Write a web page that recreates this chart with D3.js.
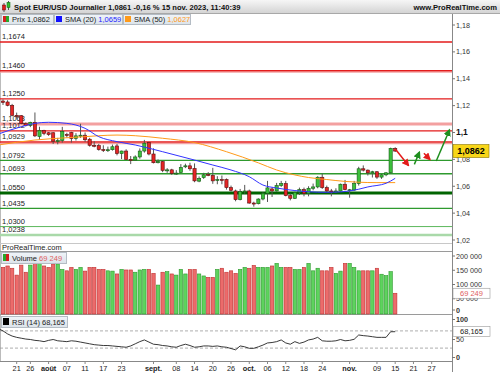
<!DOCTYPE html>
<html><head><meta charset="utf-8">
<script src="https://cdn.jsdelivr.net/npm/d3@7"></script>
<style>
html,body{margin:0;padding:0;background:#fff;}
svg{display:block;font-family:"Liberation Sans",Arial,sans-serif;}
</style></head>
<body>
<script>
// ---------- DATA ----------
const dates = ["18/07","19/07","20/07","21/07","24/07","25/07","26/07","27/07","28/07","31/07",
"01/08","02/08","03/08","04/08","07/08","08/08","09/08","10/08","11/08","14/08","15/08","16/08","17/08","18/08","21/08","22/08","23/08","24/08","25/08","28/08","29/08","30/08","31/08",
"01/09","04/09","05/09","06/09","07/09","08/09","11/09","12/09","13/09","14/09","15/09","18/09","19/09","20/09","21/09","22/09","25/09","26/09","27/09","28/09","29/09",
"02/10","03/10","04/10","05/10","06/10","09/10","10/10","11/10","12/10","13/10","16/10","17/10","18/10","19/10","20/10","23/10","24/10","25/10","26/10","27/10","30/10","31/10",
"01/11","02/11","03/11","06/11","07/11","08/11","09/11","10/11","13/11","14/11","15/11"];

const open = [1.1234,1.1227,1.1202,1.1128,1.1125,1.1066,1.1053,1.1076,1.0970,1.1015,
1.0998,1.0998,1.0935,1.0940,1.0985,1.1000,1.0955,1.0975,1.0980,1.0950,
1.0905,1.0902,1.0873,1.0870,1.0872,1.0900,1.0843,1.0862,1.0800,1.0795,
1.0818,1.0862,1.0925,1.0840,1.0775,1.0783,1.0718,1.0722,1.0695,1.0702,
1.0745,1.0752,1.0732,1.0638,1.0665,1.0688,1.0680,1.0645,1.0650,1.0650,
1.0590,1.0565,1.0500,1.0560,1.0565,1.0475,1.0470,1.0505,1.0548,1.0580,
1.0565,1.0605,1.0620,1.0530,1.0510,1.0555,1.0575,1.0545,1.0585,1.0595,
1.0667,1.0590,1.0565,1.0560,1.0565,1.0615,1.0570,1.0572,1.0620,1.0730,
1.0720,1.0700,1.0708,1.0668,1.0685,1.0700,1.0882];

const high = [1.1246,1.1240,1.1213,1.1148,1.1130,1.1075,1.1080,1.1149,1.1043,1.1020,
1.1003,1.1003,1.0960,1.1042,1.0998,1.1005,1.0995,1.1065,1.1000,1.0960,
1.0935,1.0915,1.0905,1.0895,1.0910,1.0915,1.0865,1.0875,1.0825,1.0830,
1.0882,1.0945,1.0930,1.0882,1.0800,1.0790,1.0735,1.0730,1.0720,1.0765,
1.0768,1.0775,1.0770,1.0673,1.0700,1.0705,1.0737,1.0675,1.0680,1.0658,
1.0605,1.0575,1.0580,1.0610,1.0575,1.0485,1.0510,1.0555,1.0640,1.0590,
1.0625,1.0640,1.0640,1.0545,1.0560,1.0590,1.0590,1.0600,1.0620,1.0675,
1.0695,1.0605,1.0580,1.0585,1.0620,1.0647,1.0580,1.0640,1.0745,1.0755,
1.0725,1.0715,1.0712,1.0690,1.0705,1.0887,1.0890];

const low = [1.1205,1.1195,1.1120,1.1105,1.1065,1.1045,1.1040,1.0966,1.0945,1.0980,
1.0975,1.0915,1.0912,1.0925,1.0962,1.0925,1.0940,1.0960,1.0930,1.0895,
1.0890,1.0865,1.0855,1.0855,1.0865,1.0830,1.0802,1.0795,1.0765,1.0790,
1.0805,1.0850,1.0830,1.0770,1.0770,1.0705,1.0700,1.0685,1.0685,1.0700,
1.0735,1.0715,1.0630,1.0630,1.0655,1.0675,1.0618,1.0615,1.0615,1.0575,
1.0560,1.0488,1.0495,1.0545,1.0470,1.0448,1.0465,1.0495,1.0483,1.0520,
1.0560,1.0595,1.0525,1.0495,1.0505,1.0535,1.0525,1.0525,1.0570,1.0585,
1.0580,1.0555,1.0525,1.0550,1.0560,1.0570,1.0515,1.0565,1.0605,1.0710,
1.0680,1.0665,1.0655,1.0655,1.0675,1.0695,1.0855];

const close = [1.1224,1.1202,1.1128,1.1125,1.1066,1.1053,1.1076,1.0975,1.1015,1.0993,
1.0985,1.0935,1.0940,1.1008,1.0980,1.0955,1.0975,1.0980,1.0946,1.0905,
1.0900,1.0873,1.0870,1.0872,1.0894,1.0843,1.0862,1.0800,1.0795,1.0818,
1.0862,1.0920,1.0840,1.0775,1.0785,1.0718,1.0722,1.0695,1.0698,1.0740,
1.0752,1.0730,1.0640,1.0657,1.0685,1.0680,1.0640,1.0650,1.0645,1.0590,
1.0570,1.0500,1.0560,1.0565,1.0475,1.0470,1.0505,1.0548,1.0588,1.0565,
1.0605,1.0620,1.0530,1.0510,1.0555,1.0575,1.0545,1.0585,1.0595,1.0667,
1.0590,1.0565,1.0560,1.0565,1.0615,1.0575,1.0574,1.0620,1.0730,1.0720,
1.0700,1.0708,1.0668,1.0685,1.0700,1.0882,1.0862];

const volume = [160000,165000,157000,133000,168000,143000,168000,183000,183000,165000,
160000,172000,172000,153000,148000,160000,153000,160000,147000,160000,
160000,153000,153000,148000,147000,137000,153000,151000,151000,143000,
151000,153000,153000,139000,98000,143000,145000,137000,133000,153000,
137000,153000,153000,137000,130000,125000,125000,153000,157000,143000,
148000,139000,153000,160000,157000,167000,160000,160000,160000,165000,
174000,160000,160000,160000,153000,153000,160000,174000,148000,157000,
148000,148000,160000,139000,147000,174000,174000,160000,148000,148000,
148000,148000,157000,136000,131000,145000,69249];

// SMA readings (trading-day index, value)
const sma20Idx = [-1,4,7,10,14,18,21,25,29,35,42,46,50,54,57,60,64,67,71,74,78,80,84,86];
const sma20    = [1.0989,1.1043,1.1068,1.1076,1.1068,1.1031,1.0969,1.0932,1.0907,1.0857,1.0795,1.0758,1.0721,1.0671,1.0609,1.0587,1.0568,1.0559,1.0555,1.0558,1.0578,1.0595,1.0622,1.0659];
const sma50Idx = [-1,7,14,18,21,25,29,35,42,49,56,60,64,67,71,75,78,82,86];
const sma50    = [1.0907,1.0944,1.0961,1.0969,1.0976,1.0981,1.0976,1.0957,1.0925,1.0857,1.0774,1.0721,1.0684,1.0665,1.0650,1.0636,1.0630,1.0627,1.0627];

// RSI(14), index -1 .. 86
const rsiStart = -1;
const rsi = [75,70,63,58,55,53,51,50,48,47,45,
48,50,47,46,45,47,46,44,42,40,
38,37,36,36,35,34,33,32,35,40,
45,49,44,39,38,36,35,33,32,36,
39,36,32,33,35,35,34,35,33,32,
29,26,35,33,29.5,29.5,33,37,42,43,
45,49,42,39,45,41,44,49,51,55,
47,46,46,47,50,47,48,50.5,60.5,59,
58,56.5,55,55,55,68,68.165];

// Support / resistance levels
const levels = [1.1674,1.1460,1.1250,1.1063,1.1012,1.0929,1.0792,1.0693,1.0550,1.0435,1.0300,1.0238];
const levelLabels = ["1,1674","1,1460","1,1250","1,1063","1,1012","1,0929","1,0792","1,0693","1,0550","1,0435","1,0300","1,0238"];

// Price axis ticks
const priceTicks = [1.02,1.04,1.06,1.08,1.10,1.12,1.14,1.16,1.18];
const priceTickLabels = ["1,02","1,04","1,06","1,08","1,1","1,12","1,14","1,16","1,18"];
const volTicks = [0,50000,100000,150000,200000];
const volTickLabels = ["0","50 000","100 000","150 000","200 000"];
const rsiTicks = [0,50,100];
const rsiTickLabels = ["0","50","100"];

// X axis ticks (trading-day index)
const xTickIdx = [3,6,10,14,18,22,26,33,38,42,46,50,54,58,62,66,70,76,82,86,90,94];
const xTickLabels = ["21","26","août","07","11","17","23","sept.","08","14","20","26","oct.","06","12","18","24","nov.","09","15","21","27"];

// Annotation arrows (index, price)
const arrowFromIdx = [86.2, 90.2, 92.3, 95.0];
const arrowFromP   = [1.0870, 1.0763, 1.0845, 1.0788];
const arrowToIdx   = [88.9, 91.3, 93.6, 97.9];
const arrowToP     = [1.0755, 1.0853, 1.0800, 1.1019];
const arrowDir     = ["down","up","down","up"];

const title = "Spot EUR/USD Journalier 1,0861 -0,16 % 15 nov. 2023, 11:40:39";
const lastPrice = 1.0862, lastPriceLabel = "1,0862";
const sma20Label = "1,0659", sma50Label = "1,0627";
const lastVolLabel = "69 249", lastRsiLabel = "68,165";

// ---------- LAYOUT ----------
const W = 500, H = 375;
const plotR = 452;
const x = d3.scaleLinear().domain([0, 86]).range([3, 395.2]);
const yP = d3.scaleLinear().domain([1.02, 1.18]).range([240, 25]);
const yV = d3.scaleLinear().domain([0, 200000]).range([313, 256]);
const yR = d3.scaleLinear().domain([0, 100]).range([361, 318]);

const RED = "#e31b1b", GREEN = "#1f8f1f";
const svg = d3.select("body").append("svg").attr("width", W).attr("height", H);
const defs = svg.append("defs");

function grad(id, c1, c2) {
  const g = defs.append("linearGradient").attr("id", id).attr("x1", 0).attr("y1", 0).attr("x2", 0).attr("y2", 1);
  g.append("stop").attr("offset", 0).attr("stop-color", c1);
  g.append("stop").attr("offset", 1).attr("stop-color", c2);
}
grad("hdr", "#f6f6f6", "#d4d4d4");
grad("leg", "#f0f4f8", "#dbe3ea");

defs.append("clipPath").attr("id", "cMain").append("rect").attr("x", 0).attr("y", 14).attr("width", plotR).attr("height", 229);
defs.append("clipPath").attr("id", "cAll").append("rect").attr("x", 0).attr("y", 0).attr("width", plotR).attr("height", H);

["red", "green"].forEach(k => {
  defs.append("marker").attr("id", "ar-" + k).attr("viewBox", "0 0 10 10").attr("refX", 8).attr("refY", 5)
    .attr("markerWidth", 5).attr("markerHeight", 5).attr("orient", "auto")
    .append("path").attr("d", "M0,0 L10,5 L0,10 z").attr("fill", k === "red" ? RED : GREEN);
});

// ---------- HEADER ----------
svg.append("rect").attr("x", 0).attr("y", 0).attr("width", W).attr("height", 13).attr("fill", "url(#hdr)");
svg.append("line").attr("x1", 0).attr("x2", W).attr("y1", 13.5).attr("y2", 13.5).attr("stroke", "#a8a8a8");
// small candle icon
svg.append("line").attr("x1", 4).attr("x2", 4).attr("y1", 3).attr("y2", 12).attr("stroke", "#555");
svg.append("rect").attr("x", 2.5).attr("y", 5).attr("width", 3).attr("height", 5).attr("fill", RED).attr("stroke", "#600").attr("stroke-width", 0.5);
svg.append("line").attr("x1", 8.5).attr("x2", 8.5).attr("y1", 1).attr("y2", 10).attr("stroke", "#555");
svg.append("rect").attr("x", 7).attr("y", 2.5).attr("width", 3).attr("height", 5).attr("fill", "#33bb33").attr("stroke", "#060").attr("stroke-width", 0.5);
svg.append("text").attr("x", 14).attr("y", 9.6).attr("font-size", 7.6).attr("font-weight", "bold").attr("fill", "#111").text(title);
svg.append("text").attr("x", 497).attr("y", 9.6).attr("text-anchor", "end").attr("font-size", 7.6).attr("font-weight", "bold").attr("fill", "#111").text("www.ProRealTime.com");

// ---------- FRAMES ----------
svg.append("line").attr("x1", 0.5).attr("x2", 0.5).attr("y1", 14).attr("y2", 362).attr("stroke", "#bbb");
[[243.5, "#c8c8c8"], [251.5, "#9a9a9a"], [314.5, "#9a9a9a"], [361.5, "#888"]].forEach(([yy, c]) =>
  svg.append("line").attr("x1", 0).attr("x2", plotR).attr("y1", yy).attr("y2", yy).attr("stroke", c));
svg.append("line").attr("x1", plotR + 0.5).attr("x2", plotR + 0.5).attr("y1", 14).attr("y2", 372).attr("stroke", "#888");

// ---------- LEVELS ----------
const lvlStyle = [
  {c: RED, w: 1.5}, {c: RED, w: 1.5, under: "#f3a3a3"}, {c: RED, w: 1.3}, {c: "#f3a0a0", w: 3},
  {c: RED, w: 1.3}, {c: RED, w: 1.4, under: "#f3a3a3"}, {c: "#2e9a2e", w: 1.3}, {c: "#2e9a2e", w: 1.3},
  {c: "#006400", w: 3}, {c: "#2e9a2e", w: 1.3}, {c: "#5cb85c", w: 1}, {c: "#a9d9a9", w: 2.5}
];
const main = svg.append("g").attr("clip-path", "url(#cMain)");
levels.forEach((v, i) => {
  const s = lvlStyle[i], yy = yP(v);
  if (s.under) main.append("line").attr("x1", 0).attr("x2", plotR).attr("y1", yy + 1.5).attr("y2", yy + 1.5).attr("stroke", s.under).attr("stroke-width", 1.2);
  main.append("line").attr("x1", 0).attr("x2", plotR).attr("y1", yy).attr("y2", yy).attr("stroke", s.c).attr("stroke-width", s.w);
  main.append("text").attr("x", 2).attr("y", yy - 2.6).attr("font-size", 7.5).attr("fill", "#222").text(levelLabels[i]);
});

// ---------- CANDLES ----------
const cg = main.append("g");
dates.forEach((d, i) => {
  const cx = x(i), up = close[i] >= open[i];
  cg.append("line").attr("x1", cx).attr("x2", cx).attr("y1", yP(high[i])).attr("y2", yP(low[i])).attr("stroke", "#555").attr("stroke-width", 1);
  const y1 = yP(Math.max(open[i], close[i])), y2 = yP(Math.min(open[i], close[i]));
  cg.append("rect").attr("x", cx - 1.6).attr("y", y1).attr("width", 3.2).attr("height", Math.max(1, y2 - y1))
    .attr("fill", up ? "#3cc03c" : "#e42525").attr("stroke", up ? "#145a14" : "#5a0f0f").attr("stroke-width", 0.6);
});

// ---------- SMA ----------
const lineGen = d3.line().x(d => x(d[0])).y(d => yP(d[1])).curve(d3.curveMonotoneX);
main.append("path").datum(sma50Idx.map((k, i) => [k, sma50[i]])).attr("d", lineGen).attr("fill", "none").attr("stroke", "#ff9a1a").attr("stroke-width", 1);
main.append("path").datum(sma20Idx.map((k, i) => [k, sma20[i]])).attr("d", lineGen).attr("fill", "none").attr("stroke", "#3333ff").attr("stroke-width", 1);

// ---------- ARROWS ----------
const ag = svg.append("g").attr("clip-path", "url(#cAll)");
arrowFromIdx.forEach((a, i) => {
  const col = arrowDir[i] === "up" ? "green" : "red";
  ag.append("line").attr("x1", x(a)).attr("y1", yP(arrowFromP[i])).attr("x2", x(arrowToIdx[i])).attr("y2", yP(arrowToP[i]))
    .attr("stroke", col === "red" ? RED : GREEN).attr("stroke-width", 1.5).attr("marker-end", "url(#ar-" + col + ")");
});

// ---------- PRICE AXIS ----------
priceTicks.forEach((v, i) => {
  const yy = yP(v), bold = v === 1.10;
  svg.append("line").attr("x1", plotR).attr("x2", plotR + 3).attr("y1", yy).attr("y2", yy).attr("stroke", "#777");
  svg.append("text").attr("x", 456).attr("y", yy).attr("dy", "0.35em").attr("font-size", bold ? 8.5 : 7.2)
    .attr("font-weight", bold ? "bold" : "normal").attr("fill", bold ? "#111" : "#333").text(priceTickLabels[i]);
});
{
  const yy = yP(lastPrice);
  svg.append("rect").attr("x", 453).attr("y", yy - 6.5).attr("width", 36).attr("height", 13).attr("fill", "#f8d619").attr("stroke", "#8a7400").attr("stroke-width", 0.6);
  svg.append("text").attr("x", 471).attr("y", yy).attr("dy", "0.36em").attr("text-anchor", "middle").attr("font-size", 9).attr("font-weight", "bold").attr("fill", "#000").text(lastPriceLabel);
}

// ---------- LEGEND (top) ----------
function legendBox(x0, x1, y0, y1) {
  svg.append("rect").attr("x", x0 + 0.5).attr("y", y0 + 0.5).attr("width", x1 - x0).attr("height", y1 - y0).attr("fill", "url(#leg)").attr("stroke", "#b4bcc4");
}
legendBox(1, 53, 14, 24);
svg.append("rect").attr("x", 3).attr("y", 16).attr("width", 3).attr("height", 6).attr("fill", "#d42020");
svg.append("rect").attr("x", 6).attr("y", 16).attr("width", 3).attr("height", 6).attr("fill", "#2aa82a");
svg.append("text").attr("x", 12).attr("y", 21.8).attr("font-size", 7.5).attr("fill", "#222").text("Prix 1,0862");
legendBox(54, 122, 14, 24);
svg.append("rect").attr("x", 56).attr("y", 16).attr("width", 6).attr("height", 6).attr("fill", "#1010ff");
const t2 = svg.append("text").attr("x", 65).attr("y", 21.8).attr("font-size", 7.5).attr("fill", "#222");
t2.append("tspan").text("SMA (20) ");
t2.append("tspan").attr("fill", "#2424ff").text(sma20Label);
legendBox(123, 190, 14, 24);
svg.append("rect").attr("x", 125).attr("y", 16).attr("width", 6).attr("height", 6).attr("fill", "#ff9a1a");
const t3 = svg.append("text").attr("x", 134).attr("y", 21.8).attr("font-size", 7.5).attr("fill", "#222");
t3.append("tspan").text("SMA (50) ");
t3.append("tspan").attr("fill", "#ff9a1a").text(sma50Label);

// ---------- VOLUME ----------
svg.append("text").attr("x", 2).attr("y", 249.5).attr("font-size", 7.5).attr("fill", "#222").text("ProRealTime.com");
const vg = svg.append("g");
volume.forEach((v, i) => {
  const up = close[i] >= open[i];
  vg.append("rect").attr("x", x(i) - 1.7).attr("y", yV(v)).attr("width", 3.4).attr("height", 314 - yV(v))
    .attr("fill", up ? "#5ed35e" : "#ec6b6b").attr("stroke", up ? "#2c9a2c" : "#c03030").attr("stroke-width", 0.6);
});
legendBox(1, 66, 252, 263);
svg.append("rect").attr("x", 3).attr("y", 254).attr("width", 3).attr("height", 7).attr("fill", "#2aa82a");
svg.append("rect").attr("x", 6).attr("y", 254).attr("width", 3).attr("height", 7).attr("fill", "#d42020");
const tv = svg.append("text").attr("x", 12).attr("y", 260.5).attr("font-size", 7.5).attr("fill", "#222");
tv.append("tspan").text("Volume ");
tv.append("tspan").attr("fill", "#e06060").text(lastVolLabel);
volTicks.forEach((v, i) => {
  const yy = Math.min(yV(v), 310);
  svg.append("line").attr("x1", plotR).attr("x2", plotR + 3).attr("y1", yy).attr("y2", yy).attr("stroke", "#777");
  svg.append("text").attr("x", 456).attr("y", yy).attr("dy", "0.35em").attr("font-size", 7.2)
    .attr("font-weight", v === 0 ? "bold" : "normal").attr("fill", "#333").text(volTickLabels[i]);
});
{
  const yy = yV(volume[volume.length - 1]);
  svg.append("rect").attr("x", 453).attr("y", yy - 5).attr("width", 37).attr("height", 10).attr("fill", "#fff").attr("stroke", "#999").attr("stroke-width", 0.6);
  svg.append("text").attr("x", 471.5).attr("y", yy).attr("dy", "0.35em").attr("text-anchor", "middle").attr("font-size", 7.5).attr("fill", "#e06060").text(lastVolLabel);
}

// ---------- RSI ----------
[70, 30].forEach(v => svg.append("line").attr("x1", 0).attr("x2", plotR).attr("y1", yR(v)).attr("y2", yR(v))
  .attr("stroke", "#999").attr("stroke-width", 0.8).attr("stroke-dasharray", "3,2"));
const rg = svg.append("g").attr("clip-path", "url(#cAll)");
rg.append("path").datum(rsi.map((v, i) => [i + rsiStart, v]))
  .attr("d", d3.line().x(d => x(d[0])).y(d => yR(d[1])))
  .attr("fill", "none").attr("stroke", "#222").attr("stroke-width", 0.9);
legendBox(1, 67, 316, 327);
svg.append("rect").attr("x", 3).attr("y", 318).attr("width", 6).attr("height", 7).attr("fill", "#000");
svg.append("text").attr("x", 12).attr("y", 324.5).attr("font-size", 7.5).attr("fill", "#222").text("RSI (14) " + lastRsiLabel);
rsiTicks.forEach((v, i) => {
  const yy = Math.max(Math.min(yR(v), 357.5), 319.5);
  svg.append("line").attr("x1", plotR).attr("x2", plotR + 3).attr("y1", yy).attr("y2", yy).attr("stroke", "#777");
  svg.append("text").attr("x", 456).attr("y", yy).attr("dy", "0.35em").attr("font-size", 7.2)
    .attr("font-weight", v === 50 ? "normal" : "bold").attr("fill", "#333").text(rsiTickLabels[i]);
});
{
  const yy = yR(rsi[rsi.length - 1]);
  svg.append("rect").attr("x", 453).attr("y", yy - 5).attr("width", 37).attr("height", 10).attr("fill", "#fff").attr("stroke", "#999").attr("stroke-width", 0.6);
  svg.append("text").attr("x", 471.5).attr("y", yy).attr("dy", "0.35em").attr("text-anchor", "middle").attr("font-size", 7.5).attr("fill", "#222").text(lastRsiLabel);
}

// ---------- X AXIS ----------
xTickIdx.forEach((k, i) => {
  const xx = x(k), isMonth = isNaN(+xTickLabels[i]);
  svg.append("line").attr("x1", xx).attr("x2", xx).attr("y1", 362).attr("y2", 364).attr("stroke", "#888");
  svg.append("text").attr("x", xx).attr("y", 371).attr("text-anchor", "middle").attr("font-size", 7.3)
    .attr("font-weight", isMonth ? "bold" : "normal").attr("fill", "#222").text(xTickLabels[i]);
});
</script>
</body></html>
